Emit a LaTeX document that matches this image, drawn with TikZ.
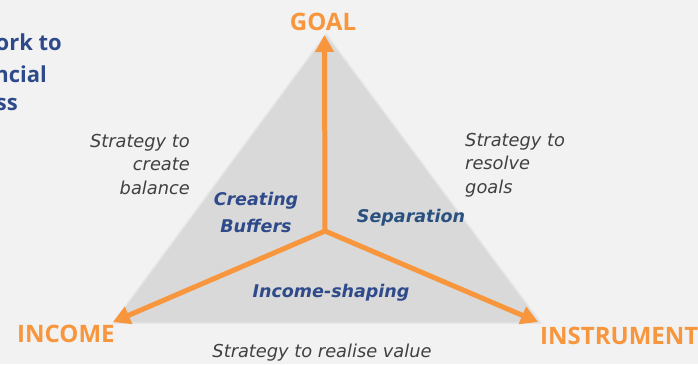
\documentclass[tikz,border=0pt]{standalone}
\usepackage{fontspec}
\setmainfont{Open Sans}
\newfontfamily\djv{DejaVu Sans}
\usetikzlibrary{arrows.meta}
\definecolor{bg}{HTML}{F2F2F2}
\definecolor{tri}{HTML}{D9D9D9}
\definecolor{triedge}{HTML}{E6E6E6}
\definecolor{orng}{HTML}{F7963C}
\definecolor{navy}{HTML}{2E4A8A}
\definecolor{steel}{HTML}{29507F}
\definecolor{txtgray}{HTML}{404040}
\tikzset{
  corner/.style={text=orng, font=\fontsize{24}{28}\selectfont\bfseries, inner sep=0pt},
  strat/.style={text=txtgray, font=\djv\fontsize{17.8}{23.5}\selectfont\itshape, inner sep=0pt, align=#1},
  zone/.style={text=#1, font=\djv\fontsize{17.5}{27}\selectfont\bfseries\itshape, inner sep=0pt, align=center},
  titletxt/.style={text=navy, font=\fontsize{22}{30}\selectfont\bfseries, inner sep=0pt, anchor=base east},
  axis/.style={draw=orng, line width=5pt, -{Triangle[length=17pt,width=18pt]}}
}
\begin{document}
\begin{tikzpicture}[x=1pt,y=-1pt]
\useasboundingbox (0,0) rectangle (698,364);
\fill[bg] (0,0) rectangle (698,364);
\begin{scope}
\clip (0,0) rectangle (698,364);
\node[titletxt] (t1) at (62,50) {ork to};
\node[titletxt] (t2) at (47,82) {ncial};
\node[titletxt] (t3) at (18,110) {ss};
\end{scope}
% triangle
\coordinate (apex) at (326,34);
\coordinate (bl) at (113,323);
\coordinate (br) at (541,323);
\filldraw[fill=tri, draw=triedge, line width=1.5pt, line join=round] (apex) -- (bl) -- (br) -- cycle;
% arrows
\coordinate (c) at (325,231);
\coordinate (gtip) at (324.5,35);
\coordinate (itip) at (113,322);
\coordinate (rtip) at (538,322);
\draw[axis] (c) -- (gtip);
\draw[axis] (c) -- (itip);
\draw[axis] (c) -- (rtip);
% corner labels
\node[corner, anchor=base] (goal) at (323,30) {GOAL};
\node[corner, anchor=base west] (income) at (17,342) {INCOME};
\node[corner, anchor=base west] (instr) at (540,344) {INSTRUMENT};
% strategies (base = last line)
\node[strat=right, anchor=base east] (s1) at (190,194) {Strategy to\\create\\balance};
\node[strat=left, anchor=base west] (s2) at (465,193) {Strategy to\\resolve\\goals};
\node[strat=center, anchor=base] (s3) at (322,357) {Strategy to realise value};
% zones
\node[zone=navy, anchor=base] (z1) at (256,232) {Creating\\Buffers};
\node[zone=steel, anchor=base] (z2) at (411,222) {Separation};
\node[zone=navy, anchor=base] (z3) at (331,297) {Income-shaping};
\end{tikzpicture}
\end{document}
